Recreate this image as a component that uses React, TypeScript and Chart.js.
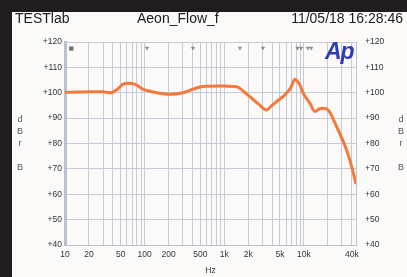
import React, { useEffect, useRef } from "react";
import { Chart, registerables } from "chart.js";

Chart.register(...registerables);

// Frequency response (Hz) and level (dBr)
const freqs = [10, 15, 20, 30, 37, 46, 53, 62, 75, 95, 120, 155, 207, 302, 404, 495, 650, 880, 1100, 1440, 1750, 2094, 2700, 3396, 3900, 4529, 6050, 6900, 7690, 8890, 9900, 11860, 13700, 15500, 17430, 20130, 25650, 34200, 40000, 45000];
const levels = [100.2, 100.3, 100.4, 100.4, 100.0, 101.5, 103.3, 103.7, 103.4, 101.4, 100.5, 99.8, 99.4, 100.0, 101.4, 102.3, 102.6, 102.7, 102.6, 102.4, 100.5, 98.5, 95.5, 93.2, 94.8, 96.5, 99.8, 102.3, 105.3, 103.0, 99.5, 95.9, 92.6, 93.6, 93.9, 93.2, 86.7, 77.5, 70.5, 64.0];

// small sweep markers along the top of the graph
const markerFreqs = [107, 404, 1570, 3050, 8300, 9200, 11200, 12300];
const markerLevels = [117.6, 117.6, 117.6, 117.6, 117.6, 117.6, 117.6, 117.6];

// range marker at the low end
const rangeFreqs = [12];
const rangeLevels = [117.4];

// axis ticks
const xLabelValues = [10, 20, 50, 100, 200, 500, 1000, 2000, 5000, 10000, 40000];
const xLabelTexts = ["10", "20", "50", "100", "200", "500", "1k", "2k", "5k", "10k", "40k"];
const xMin = 10;
const xMax = 45000;
const yMin = 40;
const yMax = 120;
const yStep = 10;

const sideLabel = ["d", "B", "r", "", "B"];

const FONT = '"Liberation Sans", Arial, Helvetica, sans-serif';

export default function App() {
  const ref = useRef<HTMLCanvasElement | null>(null);

  useEffect(() => {
    const canvas = ref.current;
    if (!canvas) return;
    const gridTicks: number[] = [];
    for (let d = 10; d <= xMax; d *= 10) {
      for (let m = 1; m <= 9; m++) {
        const v = d * m;
        if (v <= xMax) gridTicks.push(v);
      }
    }
    gridTicks.push(xMax);
    const tickFont = { family: FONT, size: 8.5 };
    const chart = new Chart(canvas, {
      type: "line",
      data: {
        datasets: [
          {
            label: "Aeon_Flow_f",
            data: freqs.map((f, i) => ({ x: f, y: levels[i] })),
            borderColor: "#f27a3c",
            borderWidth: 3,
            pointRadius: 0,
            tension: 0.3,
            cubicInterpolationMode: "monotone",
            yAxisID: "y",
          },
          {
            label: "markers",
            data: markerFreqs.map((f, i) => ({ x: f, y: markerLevels[i] })),
            showLine: false,
            pointStyle: "triangle",
            rotation: 180,
            pointRadius: 2,
            pointBackgroundColor: "#8a8a8a",
            pointBorderColor: "#8a8a8a",
            pointBorderWidth: 0.5,
            yAxisID: "y",
          },
          {
            label: "range",
            data: rangeFreqs.map((f, i) => ({ x: f, y: rangeLevels[i] })),
            showLine: false,
            pointStyle: "rect",
            pointRadius: 3,
            pointBackgroundColor: "#6e6e6e",
            pointBorderColor: "#6e6e6e",
            pointBorderWidth: 0,
            yAxisID: "y",
          },
        ],
      },
      options: {
        animation: false,
        responsive: false,
        maintainAspectRatio: false,
        layout: { padding: { left: 0, right: 0, top: 42, bottom: 0 } },
        plugins: {
          legend: { display: false },
          tooltip: { enabled: false },
          title: { display: false },
        },
        scales: {
          x: {
            type: "logarithmic",
            min: xMin,
            max: xMax,
            afterBuildTicks: (scale: any) => {
              scale.ticks = gridTicks.map((v) => ({ value: v }));
            },
            afterFit: (scale: any) => {
              scale.height = 32;
            },
            grid: {
              color: "#c2cbd6",
              lineWidth: 1,
              drawTicks: false,
            },
            border: { color: "#b8c3cf", width: 1 },
            ticks: {
              autoSkip: false,
              maxRotation: 0,
              padding: 5,
              color: "#333",
              font: tickFont,
              callback: (value: any) => {
                const idx = xLabelValues.indexOf(Number(value));
                return idx >= 0 ? xLabelTexts[idx] : "";
              },
            },
            title: {
              display: true,
              text: "Hz",
              color: "#333",
              font: { family: FONT, size: 8.5 },
              padding: { top: 0, bottom: 1 },
            },
          },
          y: {
            type: "linear",
            position: "left",
            min: yMin,
            max: yMax,
            afterFit: (scale: any) => {
              scale.width = 65;
            },
            grid: { color: "#c2cbd6", lineWidth: 1, drawTicks: false },
            border: { color: "#b8c3cf", width: 3 },
            ticks: {
              stepSize: yStep,
              padding: 3,
              color: "#333",
              font: tickFont,
              callback: (v: any) => "+" + v,
            },
          },
          y2: {
            type: "linear",
            position: "right",
            min: yMin,
            max: yMax,
            afterFit: (scale: any) => {
              scale.width = 51;
            },
            grid: { display: false, drawTicks: false },
            border: { color: "#b8c3cf", width: 1 },
            ticks: {
              stepSize: yStep,
              padding: 9,
              color: "#333",
              font: tickFont,
              callback: (v: any) => "+" + v,
            },
          },
        },
      },
    });
    return () => chart.destroy();
  }, []);

  const header: React.CSSProperties = {
    position: "absolute",
    top: 11,
    fontSize: 14,
    lineHeight: "14px",
    color: "#1c1c1c",
    fontFamily: FONT,
    whiteSpace: "nowrap",
  };
  const side: React.CSSProperties = {
    position: "absolute",
    top: 113,
    width: 12,
    fontSize: 9,
    lineHeight: "12px",
    color: "#555",
    fontFamily: FONT,
    textAlign: "center",
  };

  return (
    <div
      style={{
        position: "fixed",
        left: 0,
        top: 0,
        width: 407,
        height: 277,
        background: "#211d1e",
        overflow: "hidden",
      }}
    >
      <div style={{ position: "absolute", left: 12, top: 12, right: 0, bottom: 0, background: "#fbfaf8" }} />
      <canvas ref={ref} width={407} height={277} style={{ position: "absolute", left: 0, top: 0 }} />
      <div style={{ ...header, left: 15 }}>TESTlab</div>
      <div style={{ ...header, left: 137 }}>Aeon_Flow_f</div>
      <div style={{ ...header, right: 4 }}>11/05/18 16:28:46</div>
      <div style={{ ...side, left: 14 }}>
        {sideLabel.map((s, i) => (
          <div key={i} style={{ height: 12 }}>{s}</div>
        ))}
      </div>
      <div style={{ ...side, left: 395 }}>
        {sideLabel.map((s, i) => (
          <div key={i} style={{ height: 12 }}>{s}</div>
        ))}
      </div>
      <div
        style={{
          position: "absolute",
          left: 325,
          top: 40,
          fontSize: 23,
          lineHeight: "23px",
          fontStyle: "italic",
          fontWeight: "bold",
          color: "#2f3cb8",
          fontFamily: FONT,
          letterSpacing: -1,
        }}
      >
        Ap
      </div>
    </div>
  );
}
